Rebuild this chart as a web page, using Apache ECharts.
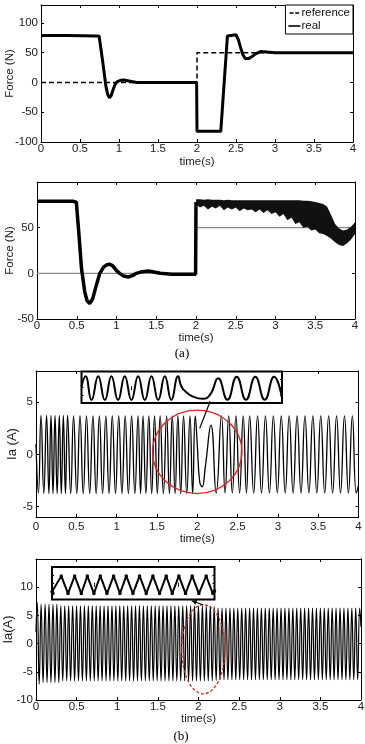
<!DOCTYPE html>
<html>
<head>
<meta charset="utf-8">
<script src="https://cdn.jsdelivr.net/npm/echarts@6/dist/echarts.min.js"></script>
<style>
html, body { margin: 0; padding: 0; background: #fff; }
#chart { width: 365px; height: 744px; }
</style>
</head>
<body>
<div id="chart"></div>
<script>
// (a) upper: force tracking, reference vs real
var forceRef1 = [[0, 0], [2, 0], [2, 50], [4, 50]];
var forceReal1 = [[0, 79], [0.35, 79], [0.70, 78], [0.745, 78], [0.79, 36], [0.834, -8], [0.855, -20],
  [0.877, -26], [0.90, -22], [0.925, -12], [0.95, -3], [0.98, 1.5], [1.02, 3.5], [1.065, 4], [1.11, 3],
  [1.16, 1.5], [1.23, 0], [1.995, 0], [2.0, -82], [2.305, -82], [2.39, 78], [2.41, 80], [2.50, 80],
  [2.53, 72], [2.56, 58], [2.59, 46], [2.62, 40], [2.66, 40], [2.70, 43], [2.75, 48], [2.82, 52],
  [2.90, 51], [3.0, 50], [4.0, 50]];

// (a) lower: force, second controller
var forceRef2 = [[0, 0], [2, 0], [2, 50], [4, 50]];
var forceReal2 = [[0, 79], [0.45, 79], [0.495, 78], [0.53, 40], [0.56, 5], [0.60, -20], [0.63, -30],
  [0.663, -33], [0.70, -28], [0.74, -15], [0.79, 0], [0.84, 7], [0.88, 9.5], [0.915, 10], [0.95, 8.5],
  [1.00, 3], [1.04, 0], [1.09, -3], [1.146, -4], [1.20, -2.5], [1.25, 0], [1.32, 1.8], [1.40, 2.5],
  [1.47, 1.5], [1.55, 0], [1.70, -1], [1.995, -1], [2.0, 78]];
// chattering band after t = 2 s
var bandT2 = [2.00, 2.05, 2.10, 2.15, 2.20, 2.25, 2.30, 2.35, 2.40, 2.45, 2.50, 2.55, 2.60, 2.65,
  2.70, 2.75, 2.80, 2.85, 2.90, 2.95, 3.00, 3.05, 3.10, 3.15, 3.20, 3.25, 3.30, 3.35, 3.40, 3.45,
  3.50, 3.55, 3.60, 3.65, 3.70, 3.75, 3.80, 3.85, 3.90, 3.95, 4.00];
var bandUp2 = [81, 81, 80.5, 81, 80.5, 80.5, 80.5, 80, 80.5, 80, 80, 80, 80, 80,
  80, 80, 80, 80, 80, 80, 80, 80, 80, 80, 80, 80, 80, 79.5, 79.5, 79,
  78, 77, 76, 73, 64, 54, 49, 47, 48, 51, 56];
var bandLo2 = [76, 72, 74, 70, 73, 71, 74, 69, 72, 70, 72, 68, 71, 69,
  70, 67, 70, 66, 69, 65, 67, 62, 65, 58, 61, 54, 56, 50, 51, 47,
  48, 44, 43, 41, 38, 34, 31, 30, 33, 37, 43];

// (b) upper: phase current, extrema
var ia1 = [[0, 1.0], [0.03, -3.7], [0.062, 3.75], [0.097, -3.75], [0.131, 3.75], [0.16, -3.75],
  [0.186, 3.75], [0.211, -3.75], [0.236, 3.75], [0.262, -3.75], [0.289, 3.75], [0.314, -3.75],
  [0.339, 3.75], [0.365, -3.75], [0.392, 3.75], [0.43, -3.75], [0.466, 3.7], [0.506, -3.75],
  [0.546, 3.7], [0.586, -3.75], [0.626, 3.7], [0.666, -3.75], [0.706, 3.7], [0.746, -3.75],
  [0.786, 3.7], [0.826, -3.75], [0.866, 3.7], [0.906, -3.75], [0.946, 3.7], [0.986, -3.75],
  [1.026, 3.7], [1.066, -3.75], [1.106, 3.7], [1.146, -3.75], [1.186, 3.7], [1.226, -3.75],
  [1.266, 3.7], [1.297, -3.75], [1.327, 3.7], [1.363, -3.75], [1.399, 3.7], [1.435, -3.75],
  [1.47, 3.7], [1.505, -3.75], [1.54, 3.7], [1.58, -3.75], [1.62, 3.7], [1.655, -3.75],
  [1.69, 3.7], [1.725, -3.75], [1.76, 3.7], [1.795, -3.75], [1.83, 3.7], [1.87, -3.75],
  [1.91, 3.7], [1.943, -3.75], [1.975, 3.7], [2.00, 1.0], [2.03, -2.6], [2.06, -3.1],
  [2.10, -1.2], [2.17, 2.8], [2.235, -3.7], [2.30, 3.7], [2.345, -3.7], [2.39, 3.7], [2.435, -3.7],
  [2.48, 3.7], [2.525, -3.7], [2.57, 3.7], [2.61, -3.7], [2.65, 3.7], [2.70, -3.7], [2.748, 3.7],
  [2.797, -3.7], [2.846, 3.7], [2.895, -3.7], [2.944, 3.7], [2.993, -3.7], [3.042, 3.7],
  [3.091, -3.7], [3.14, 3.7], [3.189, -3.7], [3.238, 3.7], [3.287, -3.7], [3.336, 3.7],
  [3.385, -3.7], [3.434, 3.7], [3.483, -3.7], [3.532, 3.7], [3.581, -3.7], [3.63, 3.7],
  [3.679, -3.7], [3.728, 3.7], [3.777, -3.7], [3.826, 3.7], [3.875, -3.7], [3.924, 3.7],
  [3.973, -3.7], [4.0, -3.0]];
// zoomed view near t = 2 s
var ia1Zoom = [[1.400, 0.5], [1.4215, 3.7], [1.454, -3.7], [1.490, 3.7], [1.526, -3.7], [1.561, 3.7],
  [1.597, -3.7], [1.633, 3.7], [1.669, -3.7], [1.705, 3.7], [1.741, -3.7], [1.777, 3.7],
  [1.813, -3.7], [1.849, 3.7], [1.884, -3.7], [1.920, 3.7], [1.938, 0.5], [1.960, -1.0],
  [2.000, -2.6], [2.055, -3.3], [2.095, -1.8], [2.136, 3.1], [2.186, -3.6], [2.236, 3.6],
  [2.286, -3.6], [2.336, 3.6], [2.387, -3.6], [2.437, 3.6], [2.48, -3.0]];

// (b) lower: phase current, extrema
var ia2 = [[0, 2.0],
  [0.015, 7.3], [0.039, -7.2], [0.063, 7.0], [0.087, -6.9], [0.112, 7.0], [0.136, -6.9],
  [0.160, 7.0], [0.184, -6.9], [0.209, 7.0], [0.233, -6.9], [0.257, 7.0], [0.281, -6.9],
  [0.305, 6.7], [0.329, -6.6], [0.354, 6.7], [0.378, -6.6], [0.402, 6.7], [0.426, -6.6],
  [0.451, 6.7], [0.475, -6.6], [0.499, 6.7], [0.523, -6.6], [0.547, 6.7], [0.571, -6.6],
  [0.596, 6.7], [0.620, -6.6], [0.644, 6.7], [0.668, -6.6], [0.693, 6.7], [0.717, -6.6],
  [0.741, 6.7], [0.765, -6.6], [0.789, 6.7], [0.813, -6.6], [0.838, 6.7], [0.862, -6.6],
  [0.886, 6.7], [0.910, -6.6], [0.935, 6.7], [0.959, -6.6], [0.983, 6.7], [1.007, -6.6],
  [1.031, 6.7], [1.055, -6.6], [1.080, 6.7], [1.104, -6.6], [1.128, 6.7], [1.152, -6.6],
  [1.177, 6.7], [1.201, -6.6], [1.225, 6.7], [1.249, -6.6], [1.273, 6.7], [1.297, -6.6],
  [1.322, 6.7], [1.346, -6.6], [1.370, 6.7], [1.394, -6.6], [1.419, 6.7], [1.443, -6.6],
  [1.467, 6.7], [1.491, -6.6], [1.515, 6.7], [1.539, -6.6], [1.564, 6.7], [1.588, -6.6],
  [1.612, 6.7], [1.636, -6.6], [1.661, 6.7], [1.685, -6.6], [1.709, 6.7], [1.733, -6.6],
  [1.757, 6.7], [1.781, -6.6], [1.806, 6.7], [1.830, -6.6], [1.854, 6.7], [1.878, -6.6],
  [1.903, 6.7], [1.927, -6.6], [1.951, 6.7], [1.975, -6.6], [1.999, 6.7], [2.023, -6.6],
  [2.048, 6.7], [2.072, -6.6], [2.096, 6.7], [2.120, -6.6], [2.145, 6.7], [2.169, -6.6],
  [2.193, 6.6], [2.217, -6.5], [2.241, 6.3], [2.265, -6.4], [2.290, 6.3], [2.314, -6.4],
  [2.338, 6.3], [2.362, -6.4], [2.387, 6.3], [2.411, -6.4], [2.435, 6.3], [2.459, -6.4],
  [2.483, 6.3], [2.507, -6.4], [2.532, 6.3], [2.556, -6.4], [2.580, 6.3], [2.604, -6.4],
  [2.629, 6.3], [2.653, -6.4], [2.677, 6.3], [2.701, -6.4], [2.725, 6.3], [2.749, -6.4],
  [2.774, 6.3], [2.798, -6.4], [2.822, 6.3], [2.846, -6.4], [2.871, 6.3], [2.895, -6.4],
  [2.919, 6.3], [2.943, -6.4], [2.967, 6.3], [2.991, -6.4], [3.016, 6.3], [3.040, -6.4],
  [3.064, 6.3], [3.088, -6.4], [3.113, 6.3], [3.137, -6.4], [3.161, 6.3], [3.185, -6.4],
  [3.209, 6.3], [3.233, -6.4], [3.258, 6.3], [3.282, -6.4], [3.306, 6.3], [3.330, -6.4],
  [3.355, 6.3], [3.379, -6.4], [3.403, 6.3], [3.427, -6.4], [3.451, 6.3], [3.475, -6.4],
  [3.500, 6.3], [3.524, -6.4], [3.548, 6.3], [3.572, -6.4], [3.597, 6.3], [3.621, -6.4],
  [3.645, 6.3], [3.669, -6.4], [3.693, 6.3], [3.717, -6.4], [3.742, 6.3], [3.766, -6.4],
  [3.790, 6.3], [3.814, -6.4], [3.839, 6.3], [3.863, -6.4], [3.887, 6.3], [3.911, -6.4],
  [3.935, 6.3], [3.959, -6.4], [3.984, 6.3], [4.0, 3.0]];
// zoomed view (triangle-like ripple)
var ia2Zoom = [[1.800, -0.8], [1.8037, -1], [1.8344, 1], [1.859, -1], [1.8836, 1], [1.9082, -1],
  [1.9303, 1], [1.9549, -1], [1.9783, 1], [2.0029, -1], [2.0275, 1], [2.0508, -1], [2.0742, 1],
  [2.0988, -1], [2.1234, 1], [2.1480, -1], [2.1725, 1], [2.1971, -1], [2.2217, 1], [2.2439, -1],
  [2.2684, 1], [2.2930, -1], [2.3176, 1], [2.3422, -1], [2.3693, 1], [2.3939, -1], [2.400, -0.7]];

// annotations: [cx, cy, rx, ry] and [x1, y1, x2, y2]
var circle1 = [[2.0, 0.25, 0.554, 4.0]];
var pointer1 = [[2.161, 5.1, 2.03, 2.5]];
var ellipse2 = [[2.06, -1.0, 0.267, 7.9]];
var pointer2 = [[1.916, 7.6, 2.06, 6.85]];

var FONT = '"Liberation Sans", Arial, sans-serif';
var TXT = '#222';

var chart = echarts.init(document.getElementById('chart'));

var grids = [
  { left: 41, top: 5, width: 312, height: 137 },
  { left: 37, top: 182, width: 318, height: 137 },
  { left: 36, top: 371, width: 322.5, height: 146 },
  { left: 36, top: 559, width: 325, height: 141 },
  { left: 81.5, top: 371.5, width: 200.5, height: 31.5, show: true, z: 4, backgroundColor: '#fff', borderColor: '#000', borderWidth: 2 },
  { left: 52, top: 567, width: 162.5, height: 32.5, show: true, z: 4, backgroundColor: '#fff', borderColor: '#000', borderWidth: 2 }
];
grids.forEach(function (g) { g.outerBoundsMode = 'none'; g.containLabel = false; });

var xAxes = [], yAxes = [];
var line = { show: true, onZero: false, lineStyle: { color: '#000', width: 1 } };
var tick = { inside: true, length: 3, lineStyle: { color: '#000' } };

function mainAxes(g, yMin, yMax, step, yName, yGap, yNameSize, xGap, xLblMargin, hideMin) {
  var xb = {
    gridIndex: g, type: 'value', position: 'bottom', min: 0, max: 4, interval: 0.5,
    name: 'time(s)', nameLocation: 'middle', nameGap: xGap, nameMoveOverlap: false,
    nameTextStyle: { fontFamily: FONT, fontSize: 11.5, color: TXT },
    axisLine: line, axisTick: tick, splitLine: { show: false },
    axisLabel: { margin: xLblMargin, fontFamily: FONT, fontSize: 11.5, color: TXT }
  };
  var xt = {
    gridIndex: g, type: 'value', position: 'top', min: 0, max: 4, interval: 0.5,
    axisLine: line, axisTick: tick, splitLine: { show: false }, axisLabel: { show: false }
  };
  var yl = {
    gridIndex: g, type: 'value', position: 'left', min: yMin, max: yMax,
    minInterval: step, maxInterval: step, splitNumber: 3,
    name: yName, nameLocation: 'middle', nameGap: yGap, nameMoveOverlap: false,
    nameTextStyle: { fontFamily: FONT, fontSize: yNameSize, color: TXT },
    axisLine: line, axisTick: tick, splitLine: { show: false },
    axisLabel: { margin: 3, fontFamily: FONT, fontSize: 11.5, color: TXT, showMaxLabel: false, showMinLabel: !hideMin }
  };
  var yr = {
    gridIndex: g, type: 'value', position: 'right', min: yMin, max: yMax,
    minInterval: step, maxInterval: step, splitNumber: 3,
    axisLine: line, axisTick: tick, splitLine: { show: false }, axisLabel: { show: false }
  };
  xAxes.push(xb, xt);
  yAxes.push(yl, yr);
}

function insetAxes(g, xMin, xMax, xStep, yMin, yMax, yStep) {
  var t = { inside: true, length: 2, lineStyle: { color: '#000' } };
  ['bottom', 'top'].forEach(function (p) {
    xAxes.push({ gridIndex: g, type: 'value', position: p, min: xMin, max: xMax, interval: xStep, z: 5,
      axisLine: { show: false }, axisTick: t, axisLabel: { show: false }, splitLine: { show: false } });
  });
  ['left', 'right'].forEach(function (p) {
    yAxes.push({ gridIndex: g, type: 'value', position: p, min: yMin, max: yMax, interval: yStep, z: 5,
      axisLine: { show: false }, axisTick: t, axisLabel: { show: false }, splitLine: { show: false } });
  });
}

mainAxes(0, -100, 130, 50, 'Force (N)', 25, 11.5, 14, 1, false);
mainAxes(1, -50, 100, 50, 'Force (N)', 21, 11.5, 13, 1, false);
mainAxes(2, -6, 8, 5, 'Ia (A)', 17, 13, 16, 4, true);
mainAxes(3, -10, 15, 5, 'Ia(A)', 21, 13, 12.5, 1, false);
insetAxes(4, 1.40, 2.48, 0.27, -4.6, 5.2, 2.45);
insetAxes(5, 1.80, 2.40, 0.155, -1.68, 2.02, 0.925);

function bandSeries(g, T, U, L) {
  return {
    type: 'custom', xAxisIndex: 2 * g, yAxisIndex: 2 * g, z: 3, silent: true,
    data: [[T[0], U[0]]],
    renderItem: function (params, api) {
      var pts = [];
      for (var i = 0; i < T.length; i++) pts.push(api.coord([T[i], U[i]]));
      for (var j = T.length - 1; j >= 0; j--) pts.push(api.coord([T[j], L[j]]));
      return { type: 'polygon', shape: { points: pts }, style: { fill: '#111' } };
    }
  };
}

function ellipseSeries(g, data, color, dash) {
  return {
    type: 'custom', xAxisIndex: 2 * g, yAxisIndex: 2 * g, z: 7, silent: true, data: data,
    renderItem: function (params, api) {
      var c = api.coord([api.value(0), api.value(1)]);
      var s = api.size([api.value(2), api.value(3)]);
      return {
        type: 'ellipse', shape: { cx: c[0], cy: c[1], rx: s[0], ry: s[1] },
        style: { fill: 'none', stroke: color, lineWidth: 1.3, lineDash: dash }
      };
    }
  };
}

function pointerSeries(g, data, arrow) {
  return {
    type: 'custom', xAxisIndex: 2 * g, yAxisIndex: 2 * g, z: 8, silent: true, data: data,
    renderItem: function (params, api) {
      var p1 = api.coord([api.value(0), api.value(1)]);
      var p2 = api.coord([api.value(2), api.value(3)]);
      var kids = [{ type: 'line', shape: { x1: p1[0], y1: p1[1], x2: p2[0], y2: p2[1] },
        style: { stroke: '#000', lineWidth: 1.2 } }];
      if (arrow) {
        var dx = p1[0] - p2[0], dy = p1[1] - p2[1];
        var len = Math.sqrt(dx * dx + dy * dy) || 1;
        var ux = dx / len, uy = dy / len;
        var bx = p1[0] - ux * 5, by = p1[1] - uy * 5;
        kids.push({ type: 'polygon', shape: { points: [[p1[0], p1[1]],
          [bx - uy * 2.5, by + ux * 2.5], [bx + uy * 2.5, by - ux * 2.5]] }, style: { fill: '#000' } });
      }
      return { type: 'group', children: kids };
    }
  };
}

var series = [
  { name: 'reference', type: 'line', xAxisIndex: 0, yAxisIndex: 0, data: forceRef1, symbol: 'none', z: 2,
    color: '#000', lineStyle: { color: '#000', width: 1.5, type: [5, 3] } },
  { name: 'real', type: 'line', xAxisIndex: 0, yAxisIndex: 0, data: forceReal1, symbol: 'none', z: 3,
    color: '#000', lineStyle: { color: '#000', width: 3 } },

  { type: 'line', xAxisIndex: 2, yAxisIndex: 2, data: forceRef2, symbol: 'none', z: 2,
    lineStyle: { color: '#8a8a8a', width: 1.2 } },
  { type: 'line', xAxisIndex: 2, yAxisIndex: 2, data: forceReal2, symbol: 'none', z: 3,
    lineStyle: { color: '#000', width: 3.5 } },
  bandSeries(1, bandT2, bandUp2, bandLo2),

  { type: 'line', xAxisIndex: 4, yAxisIndex: 4, data: ia1, symbol: 'none', smooth: 0.5, z: 2,
    lineStyle: { color: '#000', width: 1.3 } },
  ellipseSeries(2, circle1, '#e0241c', null),
  pointerSeries(2, pointer1, false),

  { type: 'line', xAxisIndex: 6, yAxisIndex: 6, data: ia2, symbol: 'none', smooth: 0.5, z: 2,
    lineStyle: { color: '#000', width: 1.2 } },
  ellipseSeries(3, ellipse2, '#d8281e', [3, 2]),
  pointerSeries(3, pointer2, true),

  { type: 'line', xAxisIndex: 8, yAxisIndex: 8, data: ia1Zoom, symbol: 'none', smooth: 0.5, z: 6,
    lineStyle: { color: '#000', width: 2 } },
  { type: 'line', xAxisIndex: 10, yAxisIndex: 10, data: ia2Zoom, symbol: 'circle', symbolSize: 3.5,
    showSymbol: true, z: 6, itemStyle: { color: '#000' }, lineStyle: { color: '#000', width: 2 } }
];

chart.setOption({
  animation: false,
  backgroundColor: '#fff',
  grid: grids,
  xAxis: xAxes,
  yAxis: yAxes,
  legend: {
    data: [
      { name: 'reference', icon: 'path://M0,0h5v2h-5z M7,0h5v2h-5z' },
      { name: 'real', icon: 'rect' }
    ],
    orient: 'vertical', right: 12, top: 5,
    padding: [2, 3, 2, 3], itemGap: 1, itemWidth: 12, itemHeight: 1.6,
    backgroundColor: '#fff', borderColor: '#000', borderWidth: 1, borderRadius: 0,
    selectedMode: false, itemStyle: { color: '#000' },
    textStyle: { fontFamily: FONT, fontSize: 11.5, color: '#111', padding: [0, 0, 0, -4] }
  },
  graphic: [
    { type: 'text', x: 182, y: 354, style: { text: '(a)', font: '13px "Liberation Serif", serif', fill: '#000',
      textAlign: 'center', textVerticalAlign: 'middle', verticalAlign: 'middle' } },
    { type: 'text', x: 181, y: 737, style: { text: '(b)', font: '13px "Liberation Serif", serif', fill: '#000',
      textAlign: 'center', textVerticalAlign: 'middle', verticalAlign: 'middle' } }
  ],
  series: series
});

window.addEventListener('resize', function () {
  chart.resize();
});
</script>
</body>
</html>
